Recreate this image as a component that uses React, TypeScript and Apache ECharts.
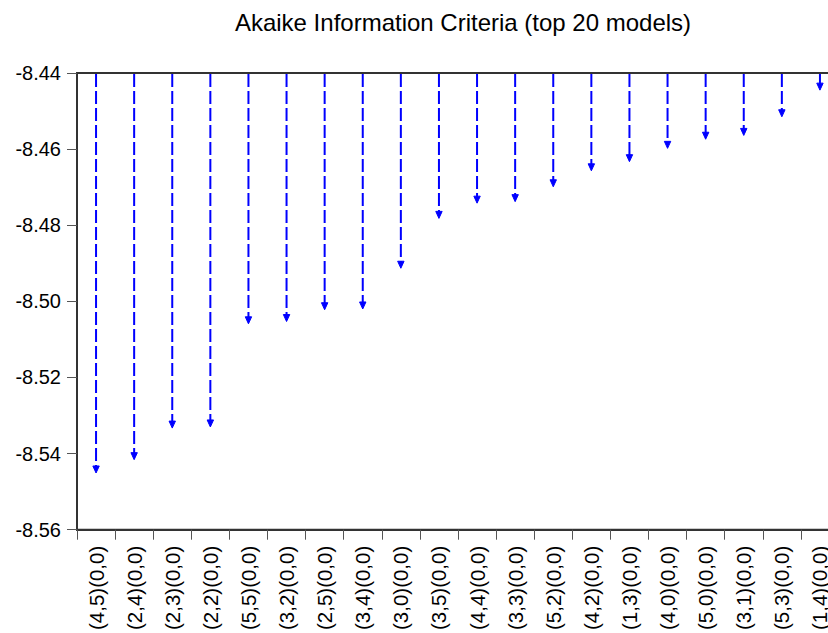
import React, { useEffect, useRef } from "react";
import * as echarts from "echarts";

const categories: string[] = [
  "(4,5)(0,0)", "(2,4)(0,0)", "(2,3)(0,0)", "(2,2)(0,0)", "(5,5)(0,0)",
  "(3,2)(0,0)", "(2,5)(0,0)", "(3,4)(0,0)", "(3,0)(0,0)", "(3,5)(0,0)",
  "(4,4)(0,0)", "(3,3)(0,0)", "(5,2)(0,0)", "(4,2)(0,0)", "(1,3)(0,0)",
  "(4,0)(0,0)", "(5,0)(0,0)", "(3,1)(0,0)", "(5,3)(0,0)", "(1,4)(0,0)",
];

const aicValues: number[] = [
  -8.5451, -8.5416, -8.5333, -8.5330, -8.5059,
  -8.5053, -8.5022, -8.5020, -8.4913, -8.4782,
  -8.4742, -8.4738, -8.4699, -8.4657, -8.4633,
  -8.4598, -8.4574, -8.4564, -8.4515, -8.4445,
];

const baseValue = -8.44;
const yMin = -8.56;
const yMax = -8.44;
const yInterval = 0.02;

const titleText = "Akaike Information Criteria (top 20 models)";

export default function App() {
  const ref = useRef<HTMLDivElement>(null);

  useEffect(() => {
    if (!ref.current) return;
    const chart = echarts.init(ref.current, null, { renderer: "svg" });
    const font = "'Liberation Sans', Arial, Helvetica, sans-serif";
    chart.setOption({
      animation: false,
      backgroundColor: "#ffffff",
      title: {
        text: titleText,
        left: 458,
        textAlign: "center",
        top: 5,
        textStyle: { fontFamily: font, fontSize: 24, fontWeight: "normal", color: "#000" },
      },
      grid: {
        left: 77,
        top: 73,
        width: 762,
        height: 457,
        show: true,
        borderColor: "#333",
        borderWidth: 2,
        backgroundColor: "transparent",
      },
      xAxis: {
        type: "category",
        data: categories,
        boundaryGap: true,
        axisLine: { show: true, lineStyle: { color: "#333", width: 2 } },
        axisTick: { show: true, length: 10, interval: 0, lineStyle: { color: "#555", width: 1 } },
        axisLabel: {
          interval: 0,
          rotate: 90,
          margin: 16,
          fontFamily: font,
          fontSize: 20.5,
          color: "#000",
        },
        splitLine: { show: false },
      },
      yAxis: {
        type: "value",
        min: yMin,
        max: yMax,
        interval: yInterval,
        axisLine: { show: true, lineStyle: { color: "#333", width: 2 } },
        axisTick: { show: true, length: 10, lineStyle: { color: "#555", width: 1 } },
        axisLabel: {
          margin: 16,
          fontFamily: font,
          fontSize: 20,
          color: "#000",
          formatter: (v: number) => v.toFixed(2),
        },
        splitLine: { show: false },
      },
      series: [
        {
          type: "custom",
          data: aicValues.map((v, i) => [i, v]),
          encode: { x: 0, y: 1 },
          renderItem: (params: any, api: any) => {
            const idx = api.value(0);
            const val = api.value(1);
            const top = api.coord([idx, baseValue]);
            const tip = api.coord([idx, val]);
            const ah = 7;
            const aw = 3.2;
            return {
              type: "group",
              children: [
                {
                  type: "line",
                  shape: { x1: top[0], y1: top[1] + 1, x2: tip[0], y2: tip[1] - ah + 1 },
                  style: { stroke: "#0000ff", lineWidth: 2, lineDash: [13, 4] },
                },
                {
                  type: "polygon",
                  shape: {
                    points: [
                      [tip[0] - aw, tip[1] - ah],
                      [tip[0] + aw, tip[1] - ah],
                      [tip[0], tip[1]],
                    ],
                  },
                  style: { fill: "#0000ff", stroke: "#0000ff", lineWidth: 1 },
                },
              ],
            };
          },
        },
      ],
    });
    return () => chart.dispose();
  }, []);

  return (
    <div
      style={{ position: "fixed", left: 0, top: 0, width: 828, height: 633, overflow: "hidden", background: "#fff" }}
    >
      <div ref={ref} style={{ width: 860, height: 633 }} />
    </div>
  );
}
